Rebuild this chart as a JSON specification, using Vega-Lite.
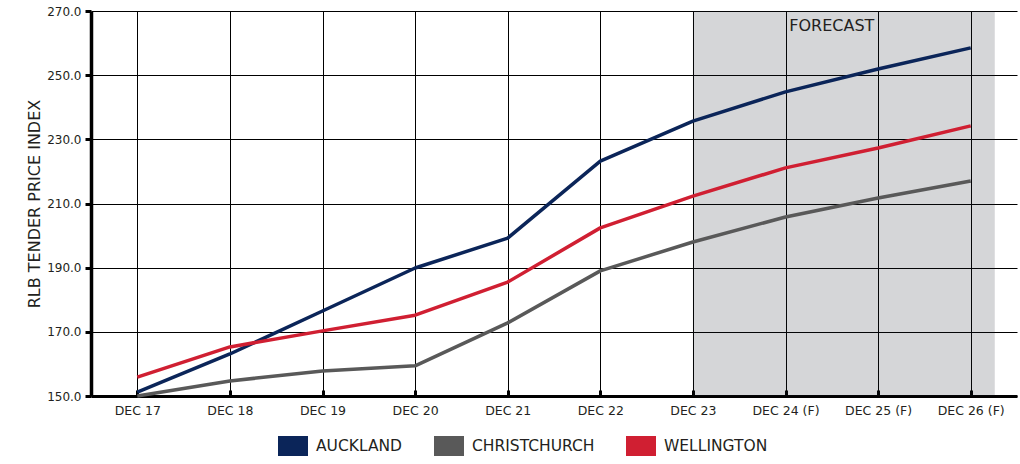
{
  "$schema": "https://vega.github.io/schema/vega-lite/v6.json",
  "width": 926,
  "height": 385,
  "autosize": {"type": "none"},
  "padding": {"left": 91, "top": 11, "right": 3, "bottom": 68},
  "config": {
    "font": "DejaVu Sans",
    "view": {"stroke": null},
    "axis": {"labelColor": "#231f20", "titleColor": "#231f20", "labelFont": "DejaVu Sans", "titleFont": "DejaVu Sans"},
    "legend": {"labelFont": "DejaVu Sans"}
  },
  "datasets": {
    "series": [
      {"i": 0, "period": "DEC 17", "city": "AUCKLAND", "value": 151.2},
      {"i": 1, "period": "DEC 18", "city": "AUCKLAND", "value": 163.1},
      {"i": 2, "period": "DEC 19", "city": "AUCKLAND", "value": 176.5},
      {"i": 3, "period": "DEC 20", "city": "AUCKLAND", "value": 189.9},
      {"i": 4, "period": "DEC 21", "city": "AUCKLAND", "value": 199.2},
      {"i": 5, "period": "DEC 22", "city": "AUCKLAND", "value": 223.2},
      {"i": 6, "period": "DEC 23", "city": "AUCKLAND", "value": 235.7},
      {"i": 7, "period": "DEC 24 (F)", "city": "AUCKLAND", "value": 244.8},
      {"i": 8, "period": "DEC 25 (F)", "city": "AUCKLAND", "value": 251.9},
      {"i": 9, "period": "DEC 26 (F)", "city": "AUCKLAND", "value": 258.5},
      {"i": 0, "period": "DEC 17", "city": "CHRISTCHURCH", "value": 150.0},
      {"i": 1, "period": "DEC 18", "city": "CHRISTCHURCH", "value": 154.7},
      {"i": 2, "period": "DEC 19", "city": "CHRISTCHURCH", "value": 157.8},
      {"i": 3, "period": "DEC 20", "city": "CHRISTCHURCH", "value": 159.4},
      {"i": 4, "period": "DEC 21", "city": "CHRISTCHURCH", "value": 172.8},
      {"i": 5, "period": "DEC 22", "city": "CHRISTCHURCH", "value": 189.0},
      {"i": 6, "period": "DEC 23", "city": "CHRISTCHURCH", "value": 198.0},
      {"i": 7, "period": "DEC 24 (F)", "city": "CHRISTCHURCH", "value": 205.8},
      {"i": 8, "period": "DEC 25 (F)", "city": "CHRISTCHURCH", "value": 211.7},
      {"i": 9, "period": "DEC 26 (F)", "city": "CHRISTCHURCH", "value": 217.0},
      {"i": 0, "period": "DEC 17", "city": "WELLINGTON", "value": 155.9},
      {"i": 1, "period": "DEC 18", "city": "WELLINGTON", "value": 165.3},
      {"i": 2, "period": "DEC 19", "city": "WELLINGTON", "value": 170.3},
      {"i": 3, "period": "DEC 20", "city": "WELLINGTON", "value": 175.2},
      {"i": 4, "period": "DEC 21", "city": "WELLINGTON", "value": 185.5},
      {"i": 5, "period": "DEC 22", "city": "WELLINGTON", "value": 202.4},
      {"i": 6, "period": "DEC 23", "city": "WELLINGTON", "value": 212.3},
      {"i": 7, "period": "DEC 24 (F)", "city": "WELLINGTON", "value": 221.1},
      {"i": 8, "period": "DEC 25 (F)", "city": "WELLINGTON", "value": 227.3},
      {"i": 9, "period": "DEC 26 (F)", "city": "WELLINGTON", "value": 234.2}
    ],
    "forecast": [
      {"start": 6, "end": 9.26, "low": 150, "high": 270, "label": "FORECAST", "mid": 7.5, "labelValue": 265.2}
    ]
  },
  "layer": [
    {
      "data": {"name": "forecast"},
      "mark": {"type": "rect", "fill": "#161b26", "opacity": 0.18},
      "encoding": {
        "x": {"field": "start", "type": "quantitative", "scale": {"domain": [-0.5, 9.5], "nice": false, "zero": false}},
        "x2": {"field": "end"},
        "y": {"field": "low", "type": "quantitative"},
        "y2": {"field": "high"}
      }
    },
    {
      "data": {"name": "series"},
      "mark": {"type": "line", "strokeWidth": 3.5, "strokeCap": "butt", "strokeJoin": "round"},
      "encoding": {
        "x": {
          "field": "i", "type": "quantitative",
          "scale": {"domain": [-0.5, 9.5], "nice": false, "zero": false},
          "axis": {
            "title": null,
            "values": [0, 1, 2, 3, 4, 5, 6, 7, 8, 9],
            "labelExpr": "['DEC 17','DEC 18','DEC 19','DEC 20','DEC 21','DEC 22','DEC 23','DEC 24 (F)','DEC 25 (F)','DEC 26 (F)'][datum.value]",
            "grid": true, "gridColor": "#000", "gridWidth": 1, "gridOpacity": 1,
            "domainColor": "#000", "domainWidth": 3,
            "ticks": true, "tickColor": "#000", "tickWidth": 3, "tickSize": -6,
            "labelFontSize": 12.5, "labelPadding": 14, "labelFlush": false
          }
        },
        "y": {
          "field": "value", "type": "quantitative",
          "scale": {"domain": [150, 270], "nice": false, "zero": false},
          "axis": {
            "title": "RLB TENDER PRICE INDEX",
            "values": [150, 170, 190, 210, 230, 250, 270],
            "format": ".1f",
            "grid": true, "gridColor": "#000", "gridWidth": 1, "gridOpacity": 1,
            "domainColor": "#000", "domainWidth": 3.5,
            "tickColor": "#000", "tickWidth": 3, "tickSize": 6,
            "labelFontSize": 12, "labelPadding": 4,
            "titleFontSize": 16, "titleFontWeight": "normal", "titlePadding": 4
          }
        },
        "color": {
          "field": "city", "type": "nominal",
          "scale": {"domain": ["AUCKLAND", "CHRISTCHURCH", "WELLINGTON"], "range": ["#0b2559", "#595959", "#d01f32"]},
          "legend": {
            "title": null, "orient": "none", "direction": "horizontal",
            "legendX": 177, "legendY": 410, "gridAlign": "none",
            "symbolType": "M-1,0H1", "symbolSize": 900, "symbolStrokeWidth": 20,
            "labelFontSize": 15.5, "labelColor": "#231f20", "labelOffset": -2,
            "columnPadding": -9
          }
        }
      }
    },
    {
      "data": {"name": "forecast"},
      "mark": {"type": "text", "fontSize": 16, "color": "#231f20", "align": "center", "baseline": "middle"},
      "encoding": {
        "x": {"field": "mid", "type": "quantitative"},
        "y": {"field": "labelValue", "type": "quantitative"},
        "text": {"field": "label"}
      }
    }
  ]
}
